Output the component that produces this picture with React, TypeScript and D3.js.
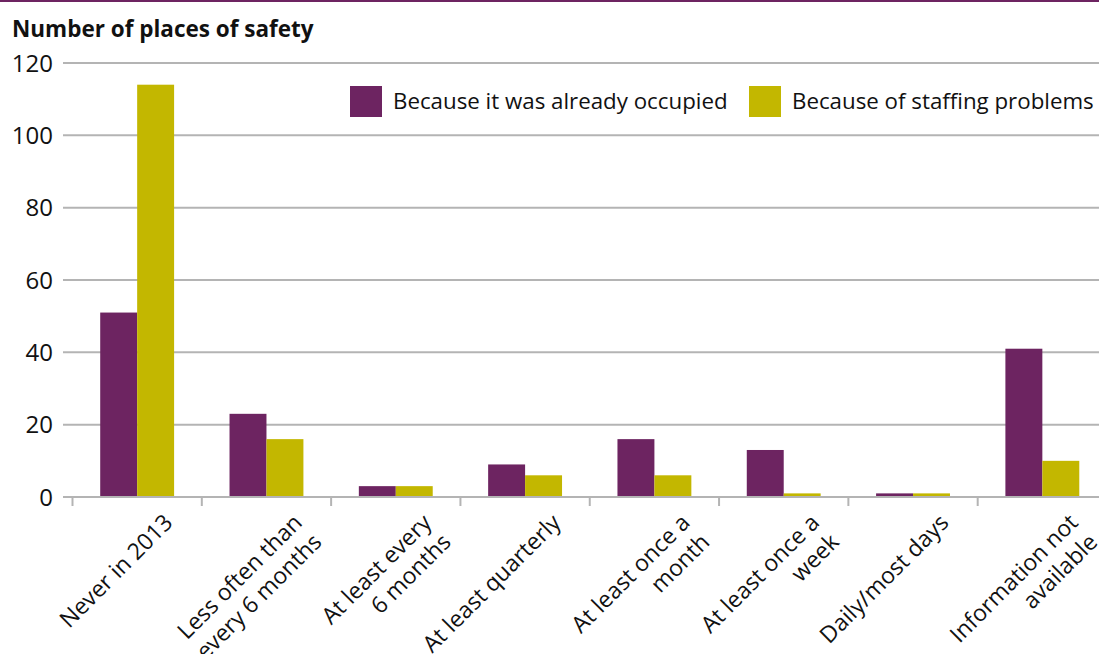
import { useEffect, useRef } from 'react';
import * as d3 from 'd3';

// categories (line breaks as in the source labels)
const categories = [
  ['Never in 2013'],
  ['Less often than', 'every 6 months'],
  ['At least every', '6 months'],
  ['At least quarterly'],
  ['At least once a', 'month'],
  ['At least once a', 'week'],
  ['Daily/most days'],
  ['Information not', 'available'],
];
const occupied = [51, 23, 3, 9, 16, 13, 1, 41];
const staffing = [114, 16, 3, 6, 6, 1, 1, 10];
const seriesNames = ['Because it was already occupied', 'Because of staffing problems'];
const colors = ['#6d2461', '#c3b700'];
const yTicks = [0, 20, 40, 60, 80, 100, 120];

const W = 1099;
const H = 654;
const font = '"Open Sans", sans-serif';

export default function App() {
  const ref = useRef<SVGSVGElement>(null);

  useEffect(() => {
    const svg = d3.select(ref.current);
    svg.selectAll('*').remove();

    const x = d3
      .scaleBand<number>()
      .domain(d3.range(categories.length))
      .range([72.5, 1107])
      .paddingInner(0)
      .paddingOuter(0);
    const x1 = d3.scaleBand<number>().domain([0, 1]).range([0, x.bandwidth()]).paddingOuter(0.75).paddingInner(0);
    const y = d3.scaleLinear().domain([0, 120]).range([497, 63]);

    // purple rule at top
    svg.append('rect').attr('x', 0).attr('y', 0).attr('width', W).attr('height', 2).attr('fill', '#6d2461');

    svg
      .append('text')
      .attr('x', 12)
      .attr('y', 37)
      .attr('font-family', font)
      .attr('font-weight', 'bold')
      .attr('font-size', 22.5)
      .attr('fill', '#111')
      .text('Number of places of safety');

    // gridlines
    svg
      .append('g')
      .selectAll('line')
      .data(yTicks.filter((d) => d > 0))
      .join('line')
      .attr('x1', 63)
      .attr('x2', W)
      .attr('y1', (d) => y(d))
      .attr('y2', (d) => y(d))
      .attr('stroke', '#b4b4b4')
      .attr('stroke-width', 2);

    // y tick labels
    svg
      .append('g')
      .selectAll('text')
      .data(yTicks)
      .join('text')
      .attr('x', 53)
      .attr('y', (d) => y(d) + 8.5)
      .attr('text-anchor', 'end')
      .attr('font-family', font)
      .attr('font-size', 24)
      .attr('fill', '#111')
      .text((d) => d);

    // bars
    const groups = svg
      .append('g')
      .selectAll('g')
      .data(categories.map((_, i) => i))
      .join('g')
      .attr('transform', (i) => `translate(${x(i)},0)`);
    groups
      .selectAll('rect')
      .data((i) => [occupied[i], staffing[i]])
      .join('rect')
      .attr('x', (_, j) => x1(j)!)
      .attr('width', x1.bandwidth())
      .attr('y', (d) => y(d))
      .attr('height', (d) => y(0) - y(d))
      .attr('fill', (_, j) => colors[j]);

    // x axis baseline and ticks
    svg
      .append('line')
      .attr('x1', 63)
      .attr('x2', W)
      .attr('y1', y(0))
      .attr('y2', y(0))
      .attr('stroke', '#b4b4b4')
      .attr('stroke-width', 2);
    svg
      .append('g')
      .selectAll('line')
      .data(d3.range(categories.length))
      .join('line')
      .attr('x1', (i) => x(i)!)
      .attr('x2', (i) => x(i)!)
      .attr('y1', y(0))
      .attr('y2', y(0) + 9)
      .attr('stroke', '#b4b4b4')
      .attr('stroke-width', 2);

    // category labels, rotated
    const lab = svg
      .append('g')
      .selectAll('text')
      .data(categories.map((c, i) => ({ c, i })))
      .join('text')
      .attr('transform', (d) => `translate(${x(d.i)! + x.bandwidth() / 2 + 37},524) rotate(-45)`)
      .attr('text-anchor', 'end')
      .attr('font-family', font)
      .attr('font-size', 23)
      .attr('fill', '#111');
    lab
      .selectAll('tspan')
      .data((d) => d.c)
      .join('tspan')
      .attr('x', 0)
      .attr('dy', (_, k) => (k === 0 ? 0 : '1.2em'))
      .text((t) => t);

    // legend
    const legendX = [350, 749];
    const leg = svg
      .append('g')
      .selectAll('g')
      .data(seriesNames)
      .join('g')
      .attr('transform', (_, j) => `translate(${legendX[j]},86)`);
    leg
      .append('rect')
      .attr('width', 32)
      .attr('height', 31)
      .attr('fill', (_, j) => colors[j]);
    leg
      .append('text')
      .attr('x', 43)
      .attr('y', 23)
      .attr('font-family', font)
      .attr('font-size', 22.3)
      .attr('fill', '#111')
      .text((d) => d);
  }, []);

  return (
    <div>
      <style>{`body{margin:0}`}</style>
      <svg ref={ref} width={W} height={H} viewBox={`0 0 ${W} ${H}`} style={{ display: 'block', background: '#fff' }} />
    </div>
  );
}
